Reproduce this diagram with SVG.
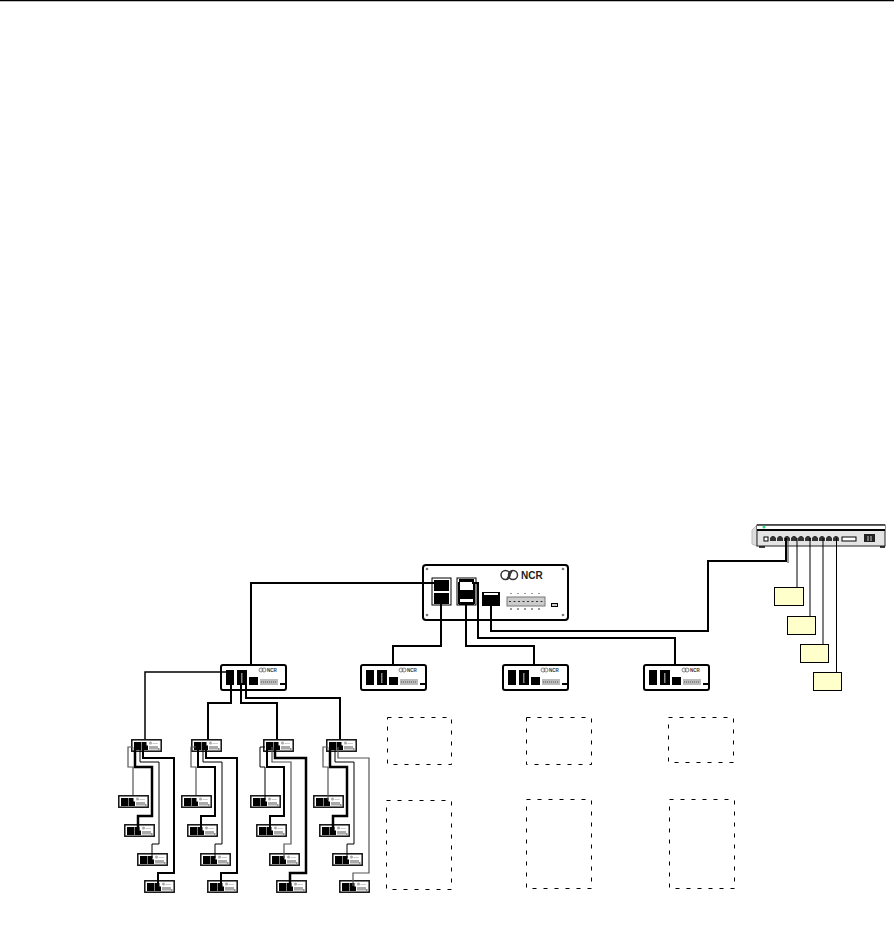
<svg xmlns="http://www.w3.org/2000/svg" width="894" height="931" viewBox="0 0 894 931">
<style>
.w{fill:none;stroke:#000;stroke-width:2}
.m{fill:none;stroke:#000;stroke-width:1.500}
.t{fill:none;stroke:#000;stroke-width:1}
.g{fill:none;stroke:#555;stroke-width:1.200}
.h{fill:none;stroke:#000;stroke-width:2.500}
.d{fill:none;stroke:#000;stroke-width:1;stroke-dasharray:4 7}
.y{fill:#ffffcc;stroke:#000;stroke-width:1}
.b{fill:#fff;stroke:#000;stroke-width:2}
.k{fill:#000}
.n{font-family:"Liberation Sans",Arial,sans-serif;font-weight:bold}
</style>
<defs>
<g id="small">
<rect class="b" x="1" y="1" width="65" height="25" rx="2"/>
<rect class="k" x="6" y="6" width="8" height="15"/>
<rect class="k" x="17" y="6" width="10" height="15"/>
<rect x="21" y="9" width="1.500" height="10" fill="#888"/>
<rect class="k" x="29" y="13" width="9" height="8"/>
<rect x="40" y="15" width="18" height="6" fill="#bbb"/>
<path d="M41 18h16" stroke="#555" stroke-dasharray="1 1" fill="none"/>
<rect class="k" x="60" y="19" width="5" height="2"/>
<circle cx="41" cy="6" r="2" fill="none" stroke="#666" stroke-width=".8"/>
<circle cx="44" cy="6" r="2" fill="none" stroke="#666" stroke-width=".8"/>
<text class="n" x="47" y="8" font-size="4.500" fill="#333">NCR</text>
</g>
<g id="tiny">
<rect x=".8" y=".8" width="29.400" height="11.400" fill="#fff" stroke="#111" stroke-width="1.500"/>
<rect class="k" x="3" y="3" width="7" height="8"/>
<rect class="k" x="10.500" y="3" width="5" height="8"/>
<rect class="k" x="13" y="6.500" width="4" height="4.500"/>
<circle cx="19.500" cy="4" r="1.500" fill="#aaa"/>
<text class="n" x="21.500" y="5" font-size="2.500" fill="#999">NCR</text>
<rect x="18" y="7" width="9" height="3.500" fill="#aaa"/>
<rect x="27" y="9.500" width="1.500" height="1" fill="#222"/>
</g>
</defs>
<rect width="894" height="931" fill="#fff"/>
<path d="M0 .5H894" stroke="#000" stroke-width="1.500"/>

<g id="switch">
<path d="M757 525L752 530V544L757 546Z" fill="#ddd" stroke="#bbb"/>
<rect x="757" y="525" width="128" height="21" fill="#e4e4e4" stroke="#222" stroke-width="1"/>
<rect x="757" y="525.500" width="128" height="4" fill="#fff"/>
<path d="M757 525H885" stroke="#000"/>
<rect x="757" y="529" width="128" height="2" fill="#000"/>
<circle cx="764" cy="527" r="1.500" fill="#22dd77"/>
<rect x="764" y="537" width="4" height="4" fill="#fff" stroke="#000"/>
<path d="M770 541V538L772 536H774L776 538V541ZM777 541V538L779 536H781L783 538V541ZM784 541V538L786 536H788L790 538V541ZM791 541V538L793 536H795L797 538V541ZM798 541V538L800 536H802L804 538V541ZM805 541V538L807 536H809L811 538V541ZM812 541V538L814 536H816L818 538V541ZM819 541V538L821 536H823L825 538V541ZM826 541V538L828 536H830L832 538V541ZM833 541V538L835 536H837L839 538V541Z" fill="#333"/>
<rect x="842" y="537" width="14" height="4" fill="#fff" stroke="#000"/>
<rect x="864" y="534" width="11" height="8" fill="#222"/>
<path d="M868 536V541M871 536V541" stroke="#ccc"/>
<path d="M759 547H765M880 547H885" stroke="#000" stroke-width="1.500"/>
</g>
<rect id="pc1" class="y" x="774.500" y="587.500" width="29" height="18"/>
<rect id="pc2" class="y" x="787.500" y="616.500" width="28" height="18"/>
<rect id="pc3" class="y" x="800.500" y="644.500" width="28" height="18"/>
<rect id="pc4" class="y" x="813.500" y="672.500" width="28" height="18"/>

<g id="main">
<rect class="b" x="423" y="565" width="145" height="55" rx="3"/>
<g fill="#777"><circle cx="427" cy="569" r="1.300"/><circle cx="563" cy="569" r="1.300"/><circle cx="427" cy="615" r="1.300"/><circle cx="563" cy="615" r="1.300"/></g>
<rect x="432" y="578" width="19" height="27" fill="#fff" stroke="#000"/>
<rect class="k" x="434" y="580" width="15" height="11"/>
<rect class="k" x="434" y="593" width="15" height="11"/>
<rect x="457" y="578" width="19" height="27" fill="#fff" stroke="#000"/>
<rect class="k" x="459" y="579" width="15" height="3"/>
<rect class="k" x="458" y="582" width="2" height="22"/>
<rect class="k" x="473" y="582" width="2" height="22"/>
<rect class="k" x="459" y="590" width="15" height="3"/>
<rect class="k" x="459" y="602" width="15" height="3"/>
<rect class="k" x="460" y="593" width="13" height="6"/>
<rect class="k" x="482" y="592" width="18" height="14"/>
<rect x="484" y="593" width="14" height="2" fill="#fff"/>
<rect x="507" y="597" width="38" height="9" fill="#ccc" stroke="#777"/>
<path d="M509 601.500H543" stroke="#333" stroke-dasharray="2 2.500" fill="none"/>
<path d="M511 593v1M518 593v1M525 593v1M532 593v1M539 593v1M511 608v2M518 608v2M525 608v2M532 608v2M539 608v2" stroke="#333" fill="none"/>
<rect x="551.500" y="603.500" width="6" height="3" fill="#ccc" stroke="#000"/>
<circle cx="505.500" cy="575" r="4.500" fill="none" stroke="#333" stroke-width="1.500"/>
<circle cx="513" cy="575" r="4.500" fill="none" stroke="#333" stroke-width="1.500"/>
<path d="M507 579L512 571" stroke="#333" stroke-width="1.500" fill="none"/>
<text class="n" x="521" y="578.500" font-size="10" fill="#222">NCR</text>
</g>

<use id="hub1" href="#small" x="220" y="664"/>
<use id="hub2" href="#small" x="360" y="664"/>
<use id="hub3" href="#small" x="502" y="664"/>
<use id="hub4" href="#small" x="643" y="664"/>

<use id="a0" href="#tiny" x="131" y="739"/>
<use id="a1" href="#tiny" x="118" y="795"/>
<use id="a2" href="#tiny" x="124" y="824"/>
<use id="a3" href="#tiny" x="137" y="853"/>
<use id="a4" href="#tiny" x="144" y="880"/>
<use id="b0" href="#tiny" x="191" y="739"/>
<use id="b1" href="#tiny" x="181" y="795"/>
<use id="b2" href="#tiny" x="187" y="824"/>
<use id="b3" href="#tiny" x="200" y="853"/>
<use id="b4" href="#tiny" x="207" y="880"/>
<use id="c0" href="#tiny" x="263" y="739"/>
<use id="c1n" href="#tiny" x="250" y="795"/>
<use id="c2n" href="#tiny" x="256" y="824"/>
<use id="c3n" href="#tiny" x="269" y="853"/>
<use id="c4n" href="#tiny" x="276" y="880"/>
<use id="d0" href="#tiny" x="326" y="739"/>
<use id="d1" href="#tiny" x="313" y="795"/>
<use id="d2" href="#tiny" x="319" y="824"/>
<use id="d3" href="#tiny" x="332" y="853"/>
<use id="d4" href="#tiny" x="339" y="880"/>

<g id="placeholders">
<rect class="d" x="387.500" y="717.500" width="64" height="47"/>
<rect class="d" x="526.500" y="717.500" width="65" height="47"/>
<rect class="d" x="668.500" y="717.500" width="65" height="45"/>
<rect class="d" x="386.500" y="800.500" width="65" height="89"/>
<rect class="d" x="526.500" y="799.500" width="65" height="89"/>
<rect class="d" x="669.500" y="799.500" width="65" height="89"/>
</g>

<g id="connectors">
<path class="w" d="M436 583H251V664"/>
<path class="w" d="M441 602V646H393V664"/>
<path class="w" d="M466 602V646H534V664"/>
<path class="w" d="M472 583H478V638H675V664"/>
<path class="w" d="M491 600V631H708V561H786V538"/>
<path class="g" d="M788 540V563"/>
<path class="t" d="M797 538V587M810 538V616M823 538V644M836.500 538V672"/>
<path class="m" d="M226 672H145V739"/>
<path class="w" d="M231 684V703H208V739"/>
<path class="w" d="M241 684V703H277V739"/>
<path class="w" d="M246 684V698H340V739"/>
<g id="c1"><path class="g" d="M133 747H128V767H133V795"/><path class="h" d="M135 747V767H152V816H138V830"/><path class="t" d="M140 747V762H159V844H152V858"/><path class="w" d="M143 747V758H174V873H158V886"/></g>
<g id="c2"><path class="g" d="M196 747H191V767H196V795"/><path class="w" d="M198 747V767H215V816H201V830"/><path class="t" d="M203 747V762H222V844H215V858"/><path class="w" d="M206 747V758H237V873H221V886"/></g>
<g id="c3"><path class="t" d="M265 747H260V767H265V800"/><path class="w" d="M267 747V767H284V816H270V830"/><path class="g" d="M272 747V762H291V844H284V858"/><path class="h" d="M275 747V758H306V873H290V886"/></g>
<g id="c4"><path class="g" d="M328 747H323V767H328V800"/><path class="h" d="M330 747V767H347V816H333V830"/><path class="t" d="M335 747V762H354V844H347V858"/><path class="g" d="M338 747V758H369V873H353V886"/></g>
</g>
</svg>
